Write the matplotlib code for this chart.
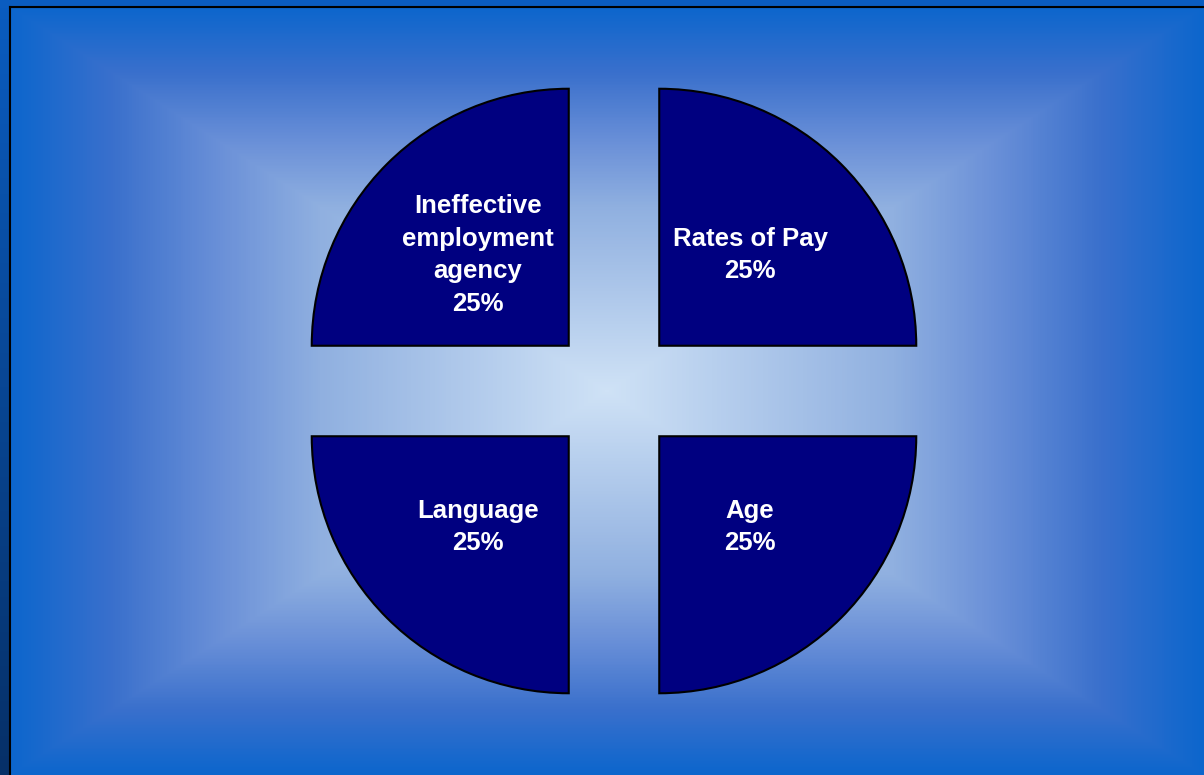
"""Four equal causes shown as an exploded pie on a blue slide-style backdrop."""
import matplotlib
matplotlib.use("Agg")
import matplotlib.pyplot as plt
import numpy as np
from matplotlib.colors import LinearSegmentedColormap

# chart data, clockwise from 12 o'clock
categories = ["Rates of Pay", "Age", "Language", "Ineffective\nemployment\nagency"]
shares = [25, 25, 25, 25]

W, H = 1204, 775

# backdrop colour stops, centre -> frame edge
BG_STOPS = [
    (0.00, "#cfe2f6"),
    (0.48, "#90b0e0"),
    (0.65, "#6a90d8"),
    (0.83, "#3a70cc"),
    (1.00, "#0c66cc"),
]


def _backdrop(ax):
    # rectangular "from centre" gradient inside the frame
    x0, y0 = 10, 7
    xs = np.linspace(-1, 1, W - x0)
    ys = np.linspace(-1, 1, H - y0)
    gx, gy = np.meshgrid(xs, ys)
    t = np.maximum(np.abs(gx), np.abs(gy))
    cmap = LinearSegmentedColormap.from_list("slide", BG_STOPS)
    ax.imshow(t, cmap=cmap, vmin=0, vmax=1, extent=(x0, W, H, y0),
              interpolation="bilinear", zorder=0)

    # slide strips outside the frame
    strip = np.linspace(0, 1, 200)[:, None, None]
    top_c = np.array([10, 92, 192]) / 255
    bot_c = np.array([6, 48, 104]) / 255
    ax.imshow(top_c + (bot_c - top_c) * strip, extent=(0, x0, H, 0),
              aspect="auto", zorder=0)
    ax.fill_between([0, W], 0, y0, color=top_c, zorder=0)
    ax.plot([x0 - 0.5, W], [y0 - 0.5, y0 - 0.5], color="black", lw=1.5, zorder=1)
    ax.plot([x0 - 0.5, x0 - 0.5], [y0 - 0.5, H], color="black", lw=1.5, zorder=1)


fig = plt.figure(figsize=(W / 100, H / 100), dpi=100)
ax = fig.add_axes([0, 0, 1, 1])

_backdrop(ax)

radius = 257
wedges, _ = ax.pie(
    shares,
    explode=[64] * len(shares),  # pie offsets are in data units here
    center=(614, 391),
    radius=radius,
    startangle=270,
    counterclock=True,
    colors=["#000080"] * len(shares),
    wedgeprops=dict(edgecolor="black", linewidth=1.5),
)

for wedge, name, share in zip(wedges, categories, shares):
    mid = np.deg2rad((wedge.theta1 + wedge.theta2) / 2)
    cx, cy = wedge.center
    tx = cx + 0.5 * radius * np.cos(mid)
    ty = cy + 0.5 * radius * np.sin(mid)
    txt = ax.text(tx, ty, f"{name}\n{share}%", ha="center", va="center",
                  color="white", fontsize=18.5, fontweight="bold",
                  family=["Liberation Sans", "DejaVu Sans"], linespacing=1.45,
                  zorder=5)
    txt.set_clip_path(wedge)

ax.set_xlim(0, W)
ax.set_ylim(H, 0)
ax.set_aspect("equal")
ax.axis("off")

fig.savefig("out.png", dpi=100)
